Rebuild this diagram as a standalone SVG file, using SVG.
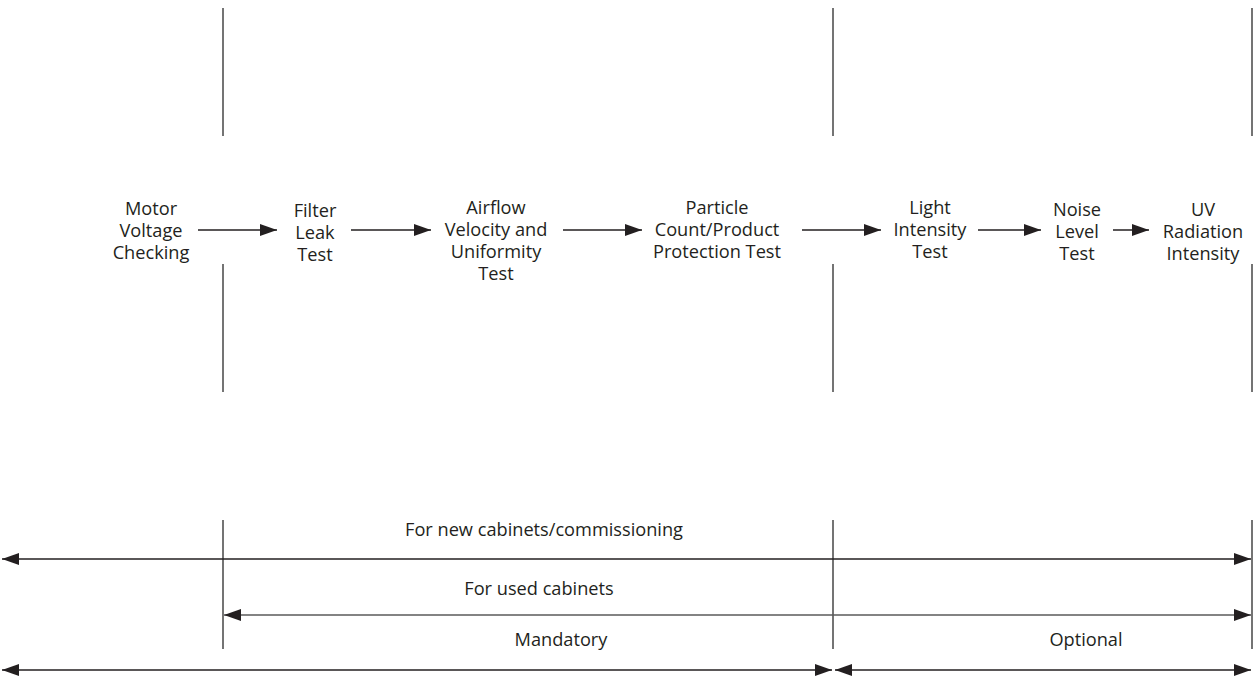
<svg xmlns="http://www.w3.org/2000/svg" width="1254" height="677" viewBox="0 0 1254 677">
  <style>
    text { font-family: "Open Sans", "Noto Sans", "Liberation Sans", sans-serif; font-size: 18.2px; fill: #231f20; text-anchor: middle; }
    .ln { stroke: #231f20; stroke-width: 1.3; fill: none; }
    .vl { stroke: #3a3a3a; stroke-width: 1.4; fill: none; }
    .gl { stroke: #5a5a5a; stroke-width: 1.6; fill: none; }
  </style>
  <defs>
    <marker id="ah" markerUnits="userSpaceOnUse" markerWidth="18" markerHeight="13" refX="17" refY="6" orient="auto-start-reverse" viewBox="0 0 18 13">
      <path d="M0,0 L17,6 L0,12 Z" fill="#231f20"/>
    </marker>
  </defs>
  <rect width="1254" height="677" fill="#ffffff"/>

  <g id="dividers">
    <path class="vl" d="M223,8 V136 M223,264 V392 M223,520 V649"/>
    <path class="vl" d="M833,8 V136 M833,264 V392 M833,520 V649"/>
    <path class="vl" d="M1252,8 V136 M1252,264 V392 M1252,520 V649"/>
  </g>

  <g id="n-motor">
    <text x="151" y="214.5">Motor</text>
    <text x="151" y="236.5">Voltage</text>
    <text x="151" y="258.5">Checking</text>
  </g>
  <g id="n-filter">
    <text x="315" y="216.5">Filter</text>
    <text x="315" y="238.5">Leak</text>
    <text x="315" y="260.5">Test</text>
  </g>
  <g id="n-airflow">
    <text x="496" y="214">Airflow</text>
    <text x="496" y="236">Velocity and</text>
    <text x="496" y="258">Uniformity</text>
    <text x="496" y="280">Test</text>
  </g>
  <g id="n-particle">
    <text x="717" y="214">Particle</text>
    <text x="717" y="236">Count/Product</text>
    <text x="717" y="258">Protection Test</text>
  </g>
  <g id="n-light">
    <text x="930" y="214">Light</text>
    <text x="930" y="236">Intensity</text>
    <text x="930" y="258">Test</text>
  </g>
  <g id="n-noise">
    <text x="1077" y="216">Noise</text>
    <text x="1077" y="238">Level</text>
    <text x="1077" y="260">Test</text>
  </g>
  <g id="n-uv">
    <text x="1203" y="216">UV</text>
    <text x="1203" y="238">Radiation</text>
    <text x="1203" y="260">Intensity</text>
  </g>

  <g id="connectors">
    <line class="ln" x1="198" y1="230" x2="277" y2="230" marker-end="url(#ah)"/>
    <line class="ln" x1="351" y1="230" x2="431" y2="230" marker-end="url(#ah)"/>
    <line class="ln" x1="563" y1="230" x2="642" y2="230" marker-end="url(#ah)"/>
    <line class="ln" x1="802" y1="230" x2="881" y2="230" marker-end="url(#ah)"/>
    <line class="ln" x1="978" y1="230" x2="1041" y2="230" marker-end="url(#ah)"/>
    <line class="ln" x1="1113" y1="230" x2="1149" y2="230" marker-end="url(#ah)"/>

    <line class="ln" x1="2" y1="559" x2="1251" y2="559" marker-start="url(#ah)" marker-end="url(#ah)"/>
    <line class="gl" x1="224" y1="615" x2="1251" y2="615" marker-start="url(#ah)" marker-end="url(#ah)"/>
    <line class="ln" x1="2" y1="670" x2="832" y2="670" marker-start="url(#ah)" marker-end="url(#ah)"/>
    <line class="ln" x1="835" y1="670" x2="1251" y2="670" marker-start="url(#ah)" marker-end="url(#ah)"/>
  </g>

  <g id="range-labels">
    <text x="544" y="536">For new cabinets/commissioning</text>
    <text x="539" y="595">For used cabinets</text>
    <text x="561" y="646">Mandatory</text>
    <text x="1086" y="646">Optional</text>
  </g>
</svg>
